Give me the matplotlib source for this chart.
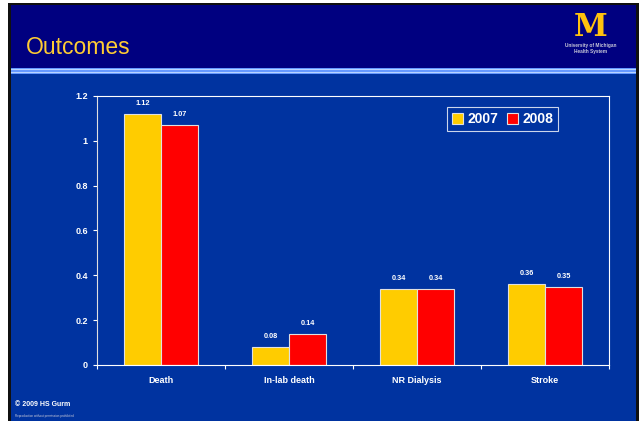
import matplotlib
matplotlib.use("Agg")
import numpy as np
import matplotlib.pyplot as plt
from matplotlib.patches import Rectangle

plt.rcParams['font.family'] = ['Liberation Sans', 'DejaVu Sans']

# data
categories = ['Death', 'In-lab death', 'NR Dialysis', 'Stroke']
vals_2007 = [1.12, 0.08, 0.34, 0.36]
vals_2008 = [1.07, 0.14, 0.34, 0.35]
series_names = ['2007', '2008']

navy = '#000080'
body = '#0033A0'
yellow = '#FFCC00'
red = '#FF0000'

W, H = 640, 421
fig = plt.figure(figsize=(6.4, 4.21), dpi=100, facecolor='white')


def px_rect(x0, y0, x1, y1, color):
    # rectangle in pixel coords (origin top-left)
    fig.patches.append(Rectangle((x0 / W, 1 - y1 / H), (x1 - x0) / W, (y1 - y0) / H,
                                 transform=fig.transFigure, facecolor=color,
                                 edgecolor='none', zorder=-10))


# slide background
px_rect(8, 3, 639, 421, '#101010')
px_rect(11, 5, 636, 421, body)
px_rect(11, 5, 636, 68, navy)
px_rect(11, 68, 636, 74, '#6699FF')
px_rect(11, 69, 636, 70, '#B8D4FF')
px_rect(11, 72, 636, 73, '#B8D4FF')

fig.text(26 / W, 1 - 47 / H, 'Outcomes', color='#FFCC33', fontsize=16.5,
         va='center', ha='left')

# logo
fig.text(591 / W, 1 - 36 / H, 'M', color='#FFC20E', fontsize=22, fontweight='bold',
         family='DejaVu Serif', ha='center', va='baseline')
fig.text(591 / W, 1 - 46 / H, 'University of Michigan', color='#C8C8D8',
         fontsize=3.4, fontweight='bold', ha='center', va='center')
fig.text(591 / W, 1 - 52 / H, 'Health System', color='#C8C8D8',
         fontsize=3.4, fontweight='bold', ha='center', va='center')

# footer
fig.text(15 / W, 1 - 405 / H, '\u00a9 2009 HS Gurm', color='white', fontsize=5,
         fontweight='bold', ha='left', va='center')
fig.text(15 / W, 1 - 416 / H, 'Reproduction without permission prohibited',
         color='#C8C8D8', fontsize=2.2, ha='left', va='center')

ax = fig.add_axes([97 / W, 1 - 365 / H, 512 / W, 269 / H])
ax.set_facecolor(body)

x = np.arange(len(categories))
bw = 0.29
b1 = ax.bar(x - bw / 2, vals_2007, bw, color=yellow, edgecolor='#E0E0E0',
            linewidth=0.8, label=series_names[0], zorder=2)
b2 = ax.bar(x + bw / 2, vals_2008, bw, color=red, edgecolor='#E0E0E0',
            linewidth=0.8, label=series_names[1], zorder=2)

for bars, vals in ((b1, vals_2007), (b2, vals_2008)):
    for rect, v in zip(bars, vals):
        ax.annotate(f'{v:.2f}', (rect.get_x() + rect.get_width() / 2, v),
                    xytext=(0, 5), textcoords='offset points', ha='center',
                    va='bottom', color='white', fontsize=5.3, fontweight='bold')

ax.set_xlim(-0.5, len(categories) - 0.5)
ax.set_ylim(0, 1.2)
ax.set_yticks(np.arange(0, 1.21, 0.2))
ax.set_yticklabels(['0', '0.2', '0.4', '0.6', '0.8', '1', '1.2'])
ax.set_xticks(np.arange(-0.5, len(categories), 1.0))
ax.set_xticklabels([])
ax.set_xticks(x, minor=True)
ax.set_xticklabels(categories, minor=True)
ax.tick_params(axis='x', which='minor', length=0, pad=8)
ax.tick_params(axis='both', which='major', colors='white', length=3, width=0.8)
ax.tick_params(axis='x', which='minor', colors='white')
for lab in ax.get_xticklabels(minor=True) + ax.get_yticklabels():
    lab.set_fontsize(6.5)
    lab.set_fontweight('bold')
    lab.set_color('white')

for s in ax.spines.values():
    s.set_color('white')
    s.set_linewidth(0.8)
ax.spines['left'].set_color('#E0E0E0')

leg = ax.legend(loc='upper right', bbox_to_anchor=(0.9, 0.958), ncol=2,
                frameon=True, fancybox=False, handlelength=0.8, handleheight=0.8,
                handletextpad=0.3, columnspacing=0.6, borderpad=0.35,
                borderaxespad=0, prop={'weight': 'bold', 'size': 10})
leg.get_frame().set_facecolor(body)
leg.get_frame().set_edgecolor('white')
leg.get_frame().set_linewidth(0.8)
for t in leg.get_texts():
    t.set_color('white')

fig.savefig('out.png', dpi=100, facecolor=fig.get_facecolor())
